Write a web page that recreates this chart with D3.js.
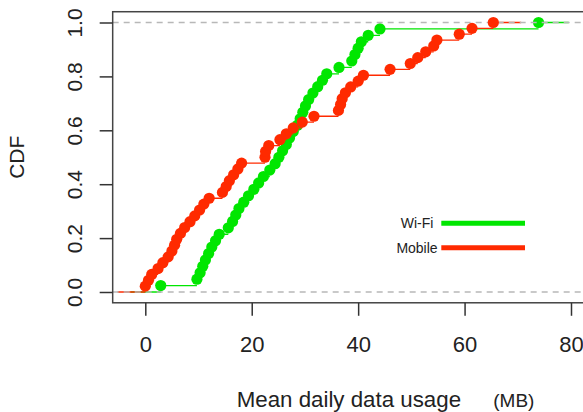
<!DOCTYPE html>
<html>
<head>
<meta charset="utf-8">
<script src="https://cdn.jsdelivr.net/npm/d3@7"></script>
<style>
  body { margin: 0; background: #fff; overflow: hidden; }
  text { font-family: "Liberation Sans", Arial, sans-serif; fill: #222; }
</style>
</head>
<body>
<script>
// mean daily data usage (MB) per user
const wifiUsage = [2.9, 9.7, 10.3, 10.8, 11.3, 11.9, 12.5, 13.2, 13.9, 15.6,
  16.4, 17.0, 17.6, 18.5, 19.4, 20.4, 21.3, 22.2, 23.4, 24.4,
  25.1, 25.8, 26.5, 27.1, 27.8, 28.6, 29.1, 29.6, 30.1, 30.7,
  31.5, 32.4, 33.3, 34.1, 36.4, 38.8, 39.4, 40.0, 40.6, 41.9,
  44.1, 73.9];
const mobileUsage = [0.0, 0.6, 1.2, 2.4, 3.3, 4.3, 5.0, 5.5, 5.9, 6.6,
  7.4, 8.4, 9.3, 10.2, 11.0, 12.0, 14.5, 15.2, 15.8, 16.6,
  17.4, 18.1, 22.5, 22.6, 23.2, 25.3, 26.5, 27.8, 29.5, 31.7,
  36.3, 36.7, 37.0, 37.6, 38.6, 40.0, 41.0, 46.0, 49.8, 51.2,
  52.7, 54.2, 54.8, 59.0, 61.4, 65.4];
const seriesNames = ["Wi-Fi", "Mobile"];
const xTicks = [0, 20, 40, 60, 80];
const yTicks = [0, 0.2, 0.4, 0.6, 0.8, 1.0];

const W = 583, H = 412;
const colors = {"Wi-Fi": "#00e600", "Mobile": "#ff2a00"};

const svg = d3.select("body").append("svg")
    .attr("width", W)
    .attr("height", H);

var xScale = d3.scaleLinear().domain([0, 80]).range([145.3, 571]);
var yScale = d3.scaleLinear().domain([0, 1]).range([292, 22.5]);

const boxL = xScale(-6.13), boxR = xScale(86),
      boxT = yScale(1.04), boxB = yScale(-0.04);

// ecdf points for one series
function ecdf(vals) {
  const s = vals.slice().sort(d3.ascending);
  return s.map((v, i) => ({x: v, y: (i + 1) / s.length}));
}

const plot = svg.append("g");
plot.append("clipPath").attr("id", "clip")
  .append("rect").attr("x", boxL).attr("y", boxT)
  .attr("width", boxR - boxL).attr("height", boxB - boxT);

const inner = plot.append("g").attr("clip-path", "url(#clip)");

function drawSteps(vals, name) {
  const pts = ecdf(vals);
  const lo = pts[0].x, hi = pts[pts.length - 1].x;
  const dr = 0.08 * (hi - lo);
  const segs = [{x1: lo - dr, x2: lo, y: 0}];
  pts.forEach((p, i) => {
    const nx = i < pts.length - 1 ? pts[i + 1].x : hi + dr;
    segs.push({x1: p.x, x2: nx, y: p.y});
  });
  inner.append("g").selectAll("line")
    .data(segs).enter().append("line")
    .attr("x1", d => xScale(d.x1))
    .attr("x2", d => xScale(d.x2))
    .attr("y1", d => yScale(d.y))
    .attr("y2", d => yScale(d.y))
    .attr("stroke", colors[name])
    .attr("stroke-width", 1.3);
  return pts;
}

const wifiPts = drawSteps(wifiUsage, "Wi-Fi");
inner.append("g").selectAll("circle")
  .data(wifiPts).enter().append("circle")
  .attr("cx", d => xScale(d.x)).attr("cy", d => yScale(d.y))
  .attr("r", 5.6).attr("fill", colors["Wi-Fi"]);

const mobPts = drawSteps(mobileUsage, "Mobile");

// grey dashed reference lines at 0 and 1
inner.selectAll(".ref")
  .data([0, 1]).enter().append("line")
  .attr("class", "ref")
  .attr("x1", boxL).attr("x2", boxR)
  .attr("y1", d => yScale(d)).attr("y2", d => yScale(d))
  .attr("stroke", "#b8b8b8")
  .attr("stroke-width", 1.5)
  .attr("stroke-dasharray", "6,5");

inner.append("g").selectAll("circle")
  .data(mobPts).enter().append("circle")
  .attr("cx", d => xScale(d.x)).attr("cy", d => yScale(d.y))
  .attr("r", 5.6).attr("fill", colors["Mobile"]);

// box
svg.append("rect")
  .attr("x", boxL).attr("y", boxT)
  .attr("width", boxR - boxL).attr("height", boxB - boxT)
  .attr("fill", "none").attr("stroke", "#444").attr("stroke-width", 1.5);

// x axis
const xAxis = svg.append("g").attr("transform", "translate(0," + boxB + ")")
  .call(d3.axisBottom(xScale).tickValues(xTicks).tickSize(13).tickPadding(21)
        .tickFormat(d3.format("d")));
xAxis.select(".domain").remove();
xAxis.selectAll(".tick line").attr("stroke", "#333").attr("stroke-width", 1.5);
xAxis.selectAll(".tick text")
  .attr("font-size", 22).attr("fill", "#222")
  .attr("font-family", "Liberation Sans, Arial, sans-serif");

// y axis
const yAxis = svg.append("g").attr("transform", "translate(" + boxL + ",0)")
  .call(d3.axisLeft(yScale).tickValues(yTicks).tickSize(13)
        .tickFormat(d3.format(".1f")));
yAxis.select(".domain").remove();
yAxis.selectAll(".tick line").attr("stroke", "#333").attr("stroke-width", 1.5);
yAxis.selectAll(".tick text")
  .attr("font-size", 21).attr("fill", "#222")
  .attr("font-family", "Liberation Sans, Arial, sans-serif")
  .attr("text-anchor", "middle")
  .attr("dy", null).attr("x", null)
  .attr("transform", "translate(" + (82 - boxL) + ",0) rotate(-90)");

// axis titles
svg.append("text")
  .attr("transform", "translate(24," + (boxT + boxB) / 2 + ") rotate(-90)")
  .attr("text-anchor", "middle")
  .attr("font-size", 21)
  .text("CDF");

svg.append("text")
  .attr("x", 236.7).attr("y", 406.5)
  .attr("font-size", 22.3)
  .text("Mean daily data usage");

svg.append("text")
  .attr("x", 493.3).attr("y", 406.5)
  .attr("font-size", 19)
  .text("(MB)");

// legend
const legend = svg.append("g");
const legY = [223.3, 247.7];
seriesNames.forEach((name, i) => {
  legend.append("text")
    .attr("x", 417).attr("y", legY[i] + 5)
    .attr("text-anchor", "middle")
    .attr("font-size", 14)
    .text(name);
  legend.append("line")
    .attr("x1", 441.3).attr("x2", 525)
    .attr("y1", legY[i]).attr("y2", legY[i])
    .attr("stroke", colors[name])
    .attr("stroke-width", 5);
});
</script>
</body>
</html>
